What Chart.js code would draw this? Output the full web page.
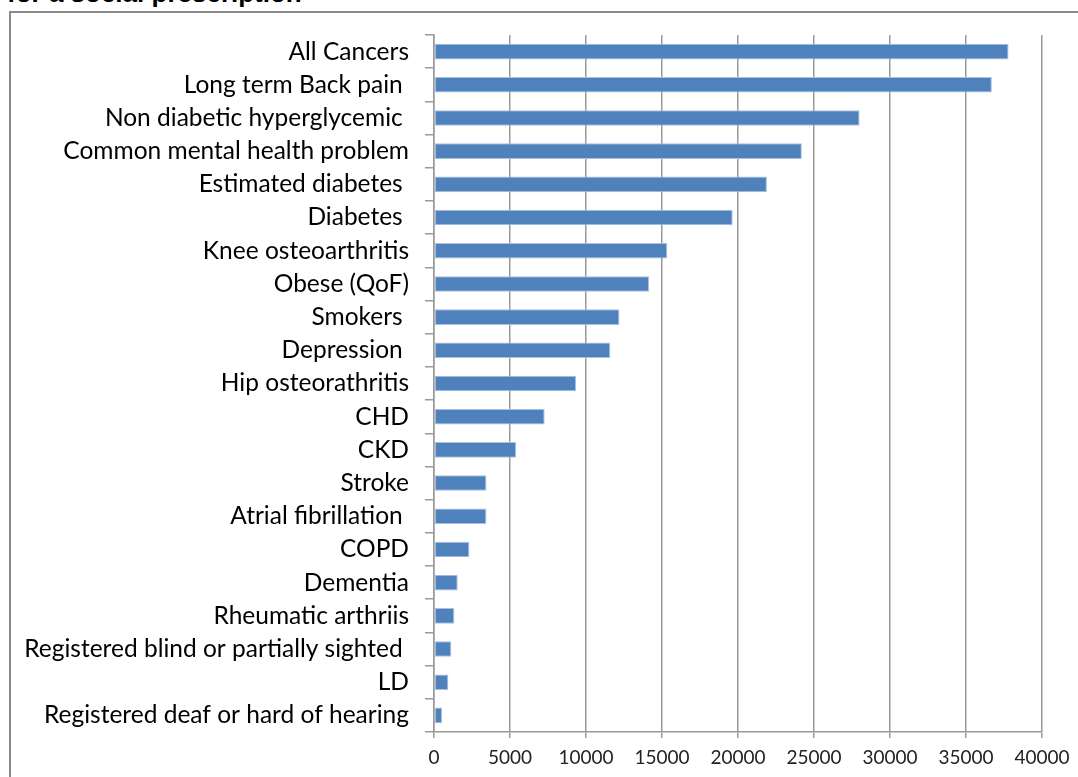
<!DOCTYPE html>
<html>
<head>
<meta charset="utf-8">
<script src="https://cdn.jsdelivr.net/npm/chart.js@4/dist/chart.umd.min.js"></script>
<style>
  html, body { margin: 0; padding: 0; background: #fff; overflow: hidden; }
  #wrap { position: relative; width: 1078px; height: 777px; overflow: hidden; }
  #title {
    position: absolute; left: 7px; top: -20px;
    font: bold 26px/26px "Liberation Sans", Arial, sans-serif; color: #000; white-space: nowrap;
  }
  #frame {
    position: absolute; left: 9px; top: 11px; width: 1200px; height: 900px;
    border: 2px solid #8a8a8a; box-sizing: border-box;
  }
  #chart { position: absolute; left: 0; top: 0; }
</style>
</head>
<body>
<div id="wrap">
  <div id="title">for a social prescription</div>
  <div id="frame"></div>
  <canvas id="chart" width="1078" height="777"></canvas>
</div>
<script>
// Categories, top to bottom (trailing spaces kept as in the source sheet)
const conditions = [
  'All Cancers',
  'Long term Back pain ',
  'Non diabetic hyperglycemic ',
  'Common mental health problem',
  'Estimated diabetes ',
  'Diabetes ',
  'Knee osteoarthritis',
  'Obese (QoF)',
  'Smokers ',
  'Depression ',
  'Hip osteorathritis',
  'CHD',
  'CKD',
  'Stroke',
  'Atrial fibrillation ',
  'COPD',
  'Dementia',
  'Rheumatic arthriis',
  'Registered blind or partially sighted ',
  'LD',
  'Registered deaf or hard of hearing'
]

const patients = [
  37800, 36700, 28000, 24200, 21900, 19650, 15350, 14150, 12200, 11600,
  9350, 7280, 5410, 3450, 3450, 2330, 1560, 1340, 1140, 945, 530
]

const xTicks = [0, 5000, 10000, 15000, 20000, 25000, 30000, 35000, 40000]

const Chart = window.Chart
const gridGrey = '#9a9a9a'

new Chart(document.getElementById('chart'), {
  type: 'bar',
  data: {
    labels: conditions,
    datasets: [{
      data: patients,
      backgroundColor: '#4f81bd',
      borderColor: '#a9c1df',
      borderWidth: 1,
      borderSkipped: false,
      barPercentage: 0.47,
      categoryPercentage: 1
    }]
  },
  options: {
    indexAxis: 'y',
    responsive: false,
    animation: false,
    layout: { padding: { top: 35, right: 36, bottom: 0, left: 0 } },
    plugins: { legend: { display: false }, tooltip: { enabled: false } },
    scales: {
      x: {
        min: 0,
        max: 40000,
        afterBuildTicks: (scale) => { scale.ticks = xTicks.map(v => ({ value: v })) },
        afterFit: (scale) => { scale.height = 45 },
        grid: { color: gridGrey, lineWidth: 1.5, tickLength: 6, drawTicks: true },
        border: { color: gridGrey, width: 1.5 },
        ticks: {
          color: '#222',
          font: { family: 'Lato', size: 19 },
          padding: 8,
          maxRotation: 0,
          autoSkip: false,
          callback: (v) => String(v)
        }
      },
      y: {
        afterFit: (scale) => { scale.width = 434 },
        grid: { drawOnChartArea: false, color: gridGrey, lineWidth: 1.5, tickLength: 9, offset: true },
        border: { color: gridGrey, width: 1.5 },
        ticks: {
          color: '#000',
          font: { family: 'Lato', size: 24.5 },
          padding: 16,
          autoSkip: false
        }
      }
    }
  }
})
</script>
</body>
</html>
